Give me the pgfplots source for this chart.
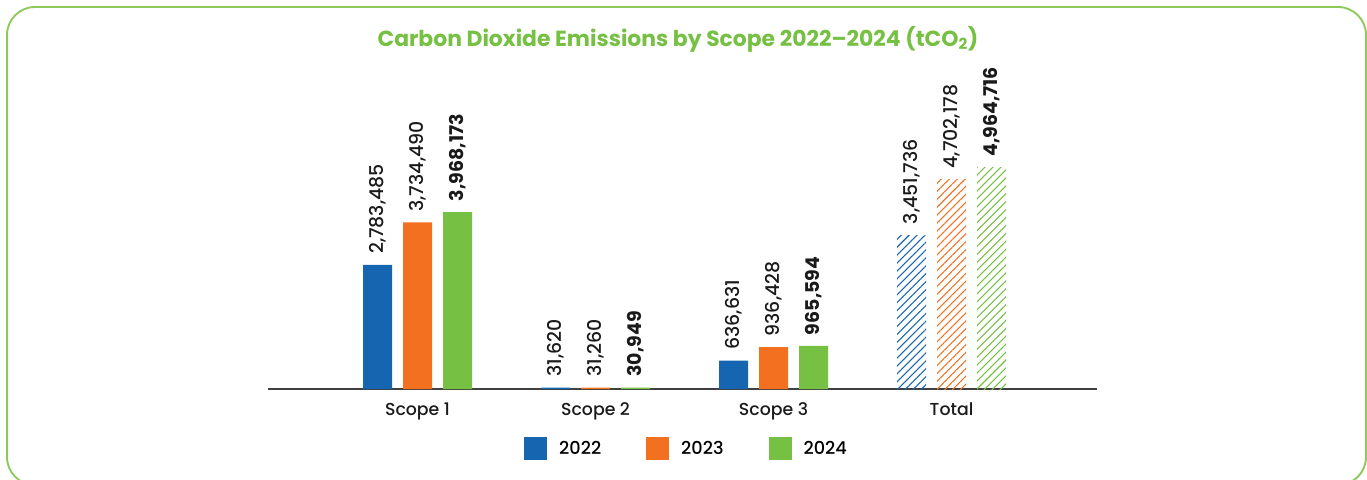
\documentclass[border=0pt]{standalone}
\usepackage{pgfplots}
\pgfplotsset{compat=1.18}
\usepackage{pgfplotstable}
\usetikzlibrary{patterns.meta}
\usepackage{fontspec}
\setmainfont{Poppins}[UprightFont=* Medium, BoldFont=* Bold]
\definecolor{cA}{HTML}{1565B0}
\definecolor{cB}{HTML}{F37021}
\definecolor{cC}{HTML}{76C043}
\definecolor{frame}{HTML}{8CC85A}
\definecolor{txt}{HTML}{1A1A1A}

\pgfplotstableread[row sep=\\]{
x v lab\\
0 2783485 2,783,485\\
1 31620 31,620\\
2 636631 636,631\\
}\dA
\pgfplotstableread[row sep=\\]{
x v lab\\
0 3734490 3,734,490\\
1 31260 31,260\\
2 936428 936,428\\
}\dB
\pgfplotstableread[row sep=\\]{
x v lab\\
0 3968173 3,968,173\\
1 30949 30,949\\
2 965594 965,594\\
}\dC
\pgfplotstableread[row sep=\\]{
x v lab\\
3 3451736 3,451,736\\
}\tA
\pgfplotstableread[row sep=\\]{
x v lab\\
3 4702178 4,702,178\\
}\tB
\pgfplotstableread[row sep=\\]{
x v lab\\
3 4964716 4,964,716\\
}\tC

\begin{document}
\begin{tikzpicture}
\clip (0,0) rectangle (1025.25pt,359.25pt);
\draw[frame, line width=1.4pt, rounded corners=21pt] (5.25pt,-4.5pt) rectangle (1024.5pt,354pt);
\node[font=\fontsize{16.4}{19}\selectfont\bfseries, text=cC] at (508.5pt,330pt) {Carbon Dioxide Emissions by Scope 2022--2024 (tCO\textsubscript{2})};
\begin{axis}[
  at={(201pt,67.5pt)}, anchor=south west,
  x=133.5pt, y=33.45pt,
  xmin=-0.84, xmax=3.82, ymin=0, ymax=7,
  axis x line*=bottom, axis y line=none,
  x axis line style={draw=black!75, line width=0.9pt},
  xtick={0,1,2,3}, xticklabels={Scope 1,Scope 2,Scope 3,Total},
  major tick length=0pt,
  xticklabel style={font=\fontsize{13}{15}\selectfont, text=txt, yshift=-6.5pt},
  clip=false,
  ybar, bar width=21.75pt,
  point meta=explicit symbolic,
  nodes near coords,
  every node near coord/.append style={rotate=90, anchor=west, inner xsep=8pt, font=\fontsize{14.2}{17}\selectfont, text=txt},
  legend columns=3,
  legend style={draw=none, at={(0.505,-0.192)}, anchor=center, font=\fontsize{13.3}{16}\selectfont,
    /tikz/every odd column/.append style={column sep=7pt},
    /tikz/every even column/.append style={column sep=31.75pt}},
  legend image code/.code={\fill[#1] (0pt,-8.6pt) rectangle (17.2pt,8.6pt);},
]
\addplot[fill=cA, draw=none, bar shift=-30pt] table[x=x, y expr=\thisrow{v}/1000000, meta=lab] {\dA};
\addlegendentry{2022}
\addplot[fill=cB, draw=none, bar shift=0pt] table[x=x, y expr=\thisrow{v}/1000000, meta=lab] {\dB};
\addlegendentry{2023}
\addplot[fill=cC, draw=none, bar shift=30pt, every node near coord/.append style={font=\fontsize{14.2}{17}\selectfont\bfseries}] table[x=x, y expr=\thisrow{v}/1000000, meta=lab] {\dC};
\addlegendentry{2024}
\addplot[forget plot, draw=none, pattern={Lines[angle=45,distance=4.2pt,line width=0.8pt]}, pattern color=cA, bar shift=-30pt] table[x=x, y expr=\thisrow{v}/1000000, meta=lab] {\tA};
\addplot[forget plot, draw=none, pattern={Lines[angle=45,distance=4.2pt,line width=0.8pt]}, pattern color=cB, bar shift=0pt] table[x=x, y expr=\thisrow{v}/1000000, meta=lab] {\tB};
\addplot[forget plot, draw=none, pattern={Lines[angle=45,distance=4.2pt,line width=0.8pt]}, pattern color=cC, bar shift=30pt, every node near coord/.append style={font=\fontsize{14.2}{17}\selectfont\bfseries}] table[x=x, y expr=\thisrow{v}/1000000, meta=lab] {\tC};
\end{axis}
\end{tikzpicture}
\end{document}
